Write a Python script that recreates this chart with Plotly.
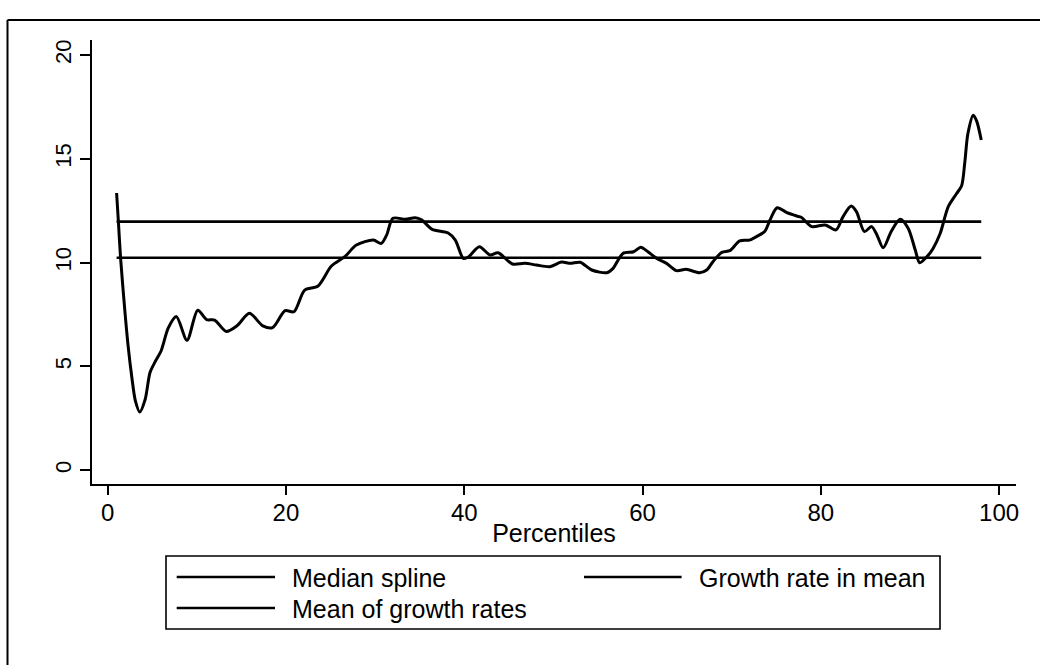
import plotly.graph_objects as go

# Median growth incidence spline by percentile
percentile = [1.0, 1.2, 1.45, 1.95, 2.3, 2.7, 3.1, 3.6, 4.2, 4.75, 5.3, 6.0, 6.8, 7.7,
              8.9, 10.1, 11.1, 12.0, 13.3, 14.5, 15.9, 17.4, 18.5, 19.9, 20.9, 22.1,
              23.6, 25.1, 26.6, 27.9, 29.8, 30.7, 31.3, 32.0, 33.4, 34.5, 35.2, 36.4,
              38.2, 39.0, 39.9, 40.5, 41.7, 42.9, 43.8, 45.4, 46.8, 48.1, 49.6, 50.9,
              51.9, 53.0, 54.3, 56.0, 56.7, 57.8, 59.0, 59.8, 60.6, 61.6, 62.7, 63.8,
              64.9, 66.4, 67.2, 67.9, 68.9, 69.8, 70.9, 72.0, 72.8, 73.7, 74.3, 75.1,
              76.2, 77.3, 77.8, 79.0, 80.5, 81.7, 82.5, 83.4, 84.0, 84.9, 85.7, 86.3,
              87.0, 87.9, 88.9, 89.8, 90.6, 91.1, 91.9, 92.6, 93.4, 94.3, 95.2, 95.8,
              96.15, 96.5, 97.1, 97.5, 98.0]
median_spline = [13.35, 11.97, 10.2, 7.55, 5.95, 4.5, 3.35, 2.8, 3.4, 4.7, 5.2, 5.75, 6.85, 7.4,
                 6.25, 7.7, 7.25, 7.23, 6.68, 6.95, 7.55, 6.95, 6.86, 7.68, 7.63, 8.67,
                 8.87, 9.83, 10.28, 10.84, 11.08, 10.92, 11.33, 12.13, 12.08, 12.16, 12.06, 11.6,
                 11.42, 11.08, 10.2, 10.28, 10.76, 10.36, 10.47, 9.93, 9.96, 9.88, 9.8, 10.02,
                 9.96, 10.01, 9.64, 9.51, 9.72, 10.44, 10.52, 10.73, 10.52, 10.2, 9.96, 9.61,
                 9.67, 9.51, 9.64, 10.04, 10.49, 10.57, 11.04, 11.08, 11.25, 11.49, 12.05, 12.64,
                 12.4, 12.24, 12.18, 11.73, 11.81, 11.57, 12.21, 12.72, 12.45, 11.49, 11.73, 11.33,
                 10.71, 11.49, 12.08, 11.65, 10.6, 9.99, 10.28, 10.68, 11.41, 12.69, 13.3, 13.7,
                 14.8, 16.2, 17.1, 16.8, 15.9]

# Reference levels, drawn across the percentile span
ref_span = [1, 98]
growth_rate_in_mean = 11.97
mean_of_growth_rates = 10.23

x_ticks = [0, 20, 40, 60, 80, 100]
y_ticks = [0, 5, 10, 15, 20]

legend_labels = ["Median spline", "Growth rate in mean", "Mean of growth rates"]

FONT = "Liberation Sans, Arial, Helvetica, sans-serif"
W, H = 1040, 665
ML, MR, MT, MB = 92, 24, 40, 181
PW, PH = W - ML - MR, H - MT - MB


def to_px(x):
    return (x - ML) / PW


def to_py(y):
    return (H - MB - y) / PH


fig = go.Figure()
fig.add_trace(go.Scatter(x=percentile, y=median_spline, mode="lines",
                         line=dict(color="black", width=3, shape="spline", smoothing=0.8),
                         name=legend_labels[0], showlegend=False))
fig.add_trace(go.Scatter(x=ref_span, y=[growth_rate_in_mean] * 2, mode="lines",
                         line=dict(color="black", width=2.6),
                         name=legend_labels[1], showlegend=False))
fig.add_trace(go.Scatter(x=ref_span, y=[mean_of_growth_rates] * 2, mode="lines",
                         line=dict(color="black", width=2.6),
                         name=legend_labels[2], showlegend=False))

shapes = []
annotations = []

# Legend box with long line samples
shapes.append(dict(type="rect", xref="paper", yref="paper",
                   x0=to_px(166), x1=to_px(940), y0=to_py(629), y1=to_py(556),
                   line=dict(color="black", width=1.6)))
legend_slots = [(176.7, 275, 290, 578), (584, 681.6, 697, 578), (176.7, 275, 290, 609)]
for label, (s0, s1, tx, ty) in zip(legend_labels, legend_slots):
    shapes.append(dict(type="line", xref="paper", yref="paper",
                       x0=to_px(s0), x1=to_px(s1), y0=to_py(ty - 1), y1=to_py(ty - 1),
                       line=dict(color="black", width=2.6)))
    annotations.append(dict(text=label, xref="paper", yref="paper",
                            x=to_px(tx), y=to_py(ty), xanchor="left", yanchor="middle",
                            showarrow=False, font=dict(family=FONT, size=25, color="black")))

# Outer frame (left and top edges)
shapes.append(dict(type="line", xref="paper", yref="paper",
                   x0=to_px(7.5), x1=to_px(7.5), y0=to_py(20), y1=to_py(670),
                   line=dict(color="black", width=2)))
shapes.append(dict(type="line", xref="paper", yref="paper",
                   x0=to_px(7.5), x1=to_px(1045), y0=to_py(20), y1=to_py(20),
                   line=dict(color="black", width=2)))

fig.update_layout(
    width=W, height=H,
    margin=dict(l=ML, r=MR, t=MT, b=MB, autoexpand=False),
    paper_bgcolor="white", plot_bgcolor="white",
    font=dict(family=FONT, color="black"),
    shapes=shapes, annotations=annotations,
    showlegend=False,
)
fig.update_xaxes(range=[-1.76, 101.9], tickvals=x_ticks, ticktext=[str(v) for v in x_ticks],
                 showgrid=False, zeroline=False, showline=True, linecolor="black", linewidth=2,
                 ticks="outside", ticklen=9, tickwidth=1.5, tickcolor="black",
                 tickfont=dict(family=FONT, size=24), ticklabelstandoff=-3, automargin=False,
                 title=dict(text="Percentiles", font=dict(family=FONT, size=25), standoff=0))
fig.update_yaxes(range=[-0.67, 20.72], tickvals=y_ticks, ticktext=[str(v) for v in y_ticks],
                 showgrid=False, zeroline=False, showline=True, linecolor="black", linewidth=2,
                 ticks="outside", ticklen=10, tickwidth=1.5, tickcolor="black",
                 tickangle=-90, tickfont=dict(family=FONT, size=22), automargin=False)

fig.write_html("out.html")
